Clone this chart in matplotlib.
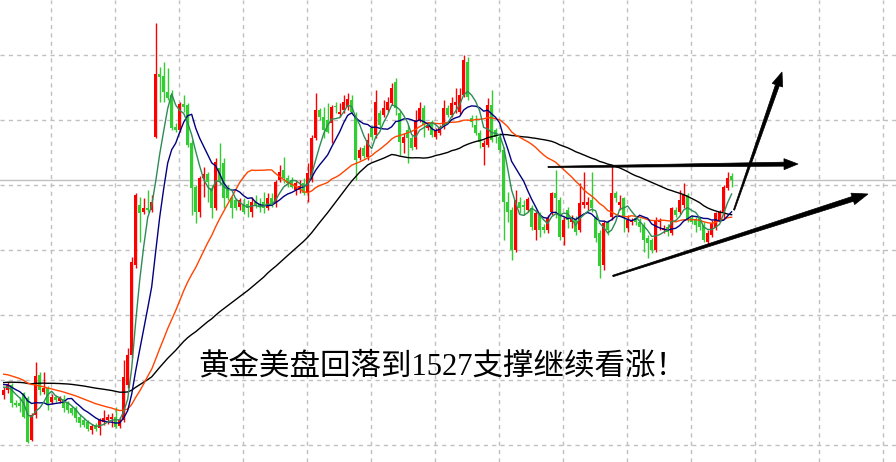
import numpy as np
import pandas as pd
import matplotlib
matplotlib.use("Agg")
import matplotlib.pyplot as plt
from matplotlib.patches import Polygon
from matplotlib.transforms import IdentityTransform

# gold H1 candles
opens = [1514.0, 1514.5, 1515.0, 1513.2, 1513.2, 1514.2, 1513.7, 1509.5, 1512.0, 1516.0,
         1514.3, 1514.7, 1513.3, 1513.8, 1513.4, 1513.6, 1513.2, 1512.7, 1512.7, 1511.8,
         1511.5, 1511.3, 1510.5, 1511.0, 1510.7, 1511.3, 1511.5, 1511.6, 1511.8, 1510.9,
         1511.5, 1515.0, 1518.0, 1527.0, 1533.0, 1532.3, 1532.7, 1532.5, 1539.8, 1546.1,
         1545.9, 1544.3, 1544.0, 1540.8, 1540.5, 1543.1, 1543.0, 1539.2, 1534.8, 1532.3,
         1535.7, 1536.1, 1534.7, 1532.7, 1536.7, 1537.2, 1534.7, 1533.7, 1533.5, 1532.8,
         1533.1, 1533.1, 1532.3, 1533.3, 1533.1, 1533.3, 1532.7, 1533.7, 1533.2, 1535.5,
         1536.5, 1535.7, 1535.5, 1534.5, 1534.5, 1535.2, 1534.2, 1535.5, 1539.7, 1542.5,
         1541.8, 1541.5, 1541.2, 1542.9, 1542.1, 1542.5, 1542.8, 1543.5, 1542.0, 1537.7,
         1538.7, 1537.8, 1540.7, 1540.0, 1542.2, 1542.0, 1542.5, 1543.2, 1545.3, 1542.2,
         1539.2, 1540.5, 1539.7, 1538.8, 1541.5, 1542.7, 1540.7, 1541.2, 1539.8, 1540.2,
         1540.8, 1542.7, 1542.0, 1543.0, 1542.3, 1544.0, 1547.3, 1541.7, 1541.0, 1540.2,
         1538.8, 1539.0, 1543.0, 1540.5, 1539.8, 1538.5, 1533.3, 1532.5, 1528.5, 1533.3,
         1533.0, 1532.5, 1532.7, 1530.5, 1532.0, 1530.8, 1530.5, 1532.3, 1534.2, 1533.5,
         1529.8, 1532.5, 1531.3, 1531.6, 1530.5, 1533.0, 1533.0, 1533.5, 1531.7, 1530.2,
         1527.0, 1531.3, 1531.8, 1534.2, 1533.0, 1533.7, 1530.7, 1531.3, 1531.7, 1531.3,
         1531.0, 1529.7, 1529.5, 1528.5, 1531.3, 1530.5, 1530.8, 1530.2, 1532.5, 1532.3,
         1533.0, 1534.0, 1531.7, 1531.5, 1531.7, 1531.0, 1529.3, 1530.0, 1530.7, 1531.5,
         1532.2, 1534.7, 1535.9]
highs = [1514.8, 1515.3, 1515.2, 1513.5, 1513.8, 1514.3, 1513.9, 1512.2, 1517.3, 1516.3,
         1516.3, 1514.9, 1514.1, 1514.0, 1513.9, 1514.0, 1513.4, 1512.9, 1512.9, 1512.1,
         1511.7, 1511.5, 1511.1, 1511.2, 1511.7, 1512.5, 1512.1, 1512.2, 1512.8, 1511.8,
         1517.5, 1518.7, 1527.8, 1534.2, 1533.8, 1533.7, 1534.5, 1534.0, 1551.2, 1546.8,
         1547.3, 1546.7, 1544.5, 1541.2, 1543.3, 1544.0, 1543.2, 1539.5, 1535.0, 1535.9,
         1536.8, 1536.3, 1535.0, 1537.7, 1539.2, 1537.7, 1535.0, 1533.9, 1533.7, 1533.7,
         1533.7, 1533.5, 1533.8, 1534.0, 1533.7, 1534.3, 1534.2, 1534.2, 1535.5, 1537.0,
         1537.8, 1536.0, 1535.8, 1535.5, 1535.5, 1535.7, 1537.2, 1540.0, 1544.2, 1542.7,
         1542.8, 1543.2, 1543.0, 1543.3, 1543.2, 1544.0, 1544.2, 1544.0, 1542.3, 1538.8,
         1539.0, 1540.2, 1541.0, 1544.5, 1542.5, 1543.5, 1543.8, 1545.2, 1545.7, 1542.5,
         1540.2, 1541.0, 1540.0, 1542.5, 1543.3, 1543.0, 1541.3, 1541.5, 1540.7, 1541.0,
         1543.5, 1543.0, 1543.8, 1544.7, 1544.7, 1548.0, 1547.8, 1542.0, 1542.0, 1540.5,
         1539.5, 1543.7, 1544.5, 1540.7, 1540.2, 1538.8, 1534.3, 1532.8, 1534.5, 1533.8,
         1533.5, 1533.8, 1533.0, 1532.5, 1532.3, 1531.1, 1532.0, 1534.3, 1536.5, 1533.8,
         1531.8, 1532.8, 1532.0, 1531.9, 1535.2, 1536.3, 1533.8, 1536.3, 1532.0, 1530.5,
         1531.5, 1531.5, 1537.0, 1534.4, 1534.0, 1533.8, 1532.0, 1531.7, 1531.9, 1531.7,
         1531.3, 1530.0, 1529.7, 1531.8, 1531.7, 1531.0, 1531.1, 1532.8, 1532.8, 1534.5,
         1535.2, 1534.2, 1532.0, 1531.8, 1531.8, 1531.3, 1530.5, 1531.5, 1532.3, 1532.5,
         1535.0, 1536.3, 1536.2]
lows = [1513.6, 1514.2, 1512.8, 1512.8, 1512.3, 1511.7, 1509.2, 1509.4, 1511.7, 1514.0,
        1514.1, 1512.5, 1513.1, 1513.3, 1513.2, 1512.3, 1512.2, 1512.0, 1511.3, 1510.8,
        1510.8, 1510.4, 1510.1, 1510.4, 1510.0, 1511.0, 1511.1, 1510.8, 1510.7, 1510.7,
        1511.3, 1514.7, 1517.7, 1526.7, 1529.3, 1532.1, 1532.3, 1532.3, 1539.7, 1543.3,
        1543.3, 1543.5, 1540.5, 1540.3, 1540.3, 1542.3, 1538.8, 1532.0, 1531.2, 1531.8,
        1533.8, 1533.3, 1531.7, 1532.5, 1535.0, 1532.7, 1533.5, 1531.7, 1532.5, 1532.5,
        1532.1, 1531.8, 1531.8, 1532.7, 1532.3, 1532.2, 1532.5, 1532.8, 1532.8, 1535.3,
        1535.2, 1534.8, 1534.7, 1534.0, 1534.2, 1534.0, 1533.3, 1535.3, 1539.5, 1541.5,
        1539.7, 1540.2, 1539.2, 1542.2, 1541.8, 1542.2, 1542.5, 1542.2, 1535.5, 1537.5,
        1537.7, 1537.5, 1539.5, 1539.7, 1540.7, 1541.8, 1542.3, 1543.0, 1542.0, 1538.0,
        1538.2, 1537.2, 1538.5, 1538.6, 1541.3, 1539.8, 1540.5, 1539.8, 1539.6, 1540.0,
        1540.6, 1541.8, 1541.8, 1542.2, 1542.1, 1543.8, 1543.5, 1540.8, 1540.0, 1538.7,
        1537.0, 1538.8, 1539.3, 1539.2, 1538.3, 1529.5, 1531.3, 1527.5, 1528.3, 1532.2,
        1532.0, 1532.3, 1530.5, 1529.5, 1529.8, 1530.2, 1530.2, 1532.0, 1531.7, 1529.5,
        1529.0, 1530.7, 1530.7, 1530.0, 1530.3, 1532.7, 1532.5, 1532.3, 1529.3, 1525.7,
        1526.5, 1530.0, 1531.5, 1533.3, 1532.5, 1530.3, 1530.3, 1531.0, 1531.0, 1530.3,
        1528.3, 1527.7, 1528.2, 1528.3, 1530.5, 1530.2, 1529.9, 1530.0, 1531.8, 1532.1,
        1532.7, 1531.3, 1531.1, 1530.3, 1530.5, 1529.3, 1529.0, 1529.8, 1530.5, 1531.3,
        1531.7, 1534.5, 1534.8]
closes = [1514.5, 1515.0, 1513.2, 1513.0, 1512.9, 1511.8, 1509.3, 1512.0, 1515.9, 1514.5,
          1514.7, 1513.0, 1513.8, 1513.5, 1513.7, 1512.7, 1512.5, 1512.2, 1511.7, 1511.2,
          1511.0, 1510.6, 1510.9, 1510.6, 1511.5, 1511.7, 1511.8, 1511.8, 1510.8, 1511.5,
          1515.8, 1518.0, 1527.3, 1534.0, 1532.2, 1532.7, 1532.5, 1533.3, 1546.1, 1545.8,
          1544.3, 1543.7, 1540.7, 1540.5, 1543.1, 1542.8, 1539.0, 1534.7, 1532.3, 1535.7,
          1536.1, 1535.3, 1532.7, 1537.3, 1535.3, 1533.7, 1533.7, 1532.7, 1532.7, 1533.5,
          1532.3, 1532.7, 1533.3, 1533.0, 1532.8, 1532.7, 1533.7, 1533.0, 1535.3, 1536.3,
          1535.7, 1535.2, 1534.8, 1535.2, 1534.9, 1534.2, 1536.2, 1539.7, 1542.5, 1541.8,
          1540.5, 1540.3, 1542.8, 1542.8, 1542.3, 1543.3, 1543.6, 1542.3, 1537.5, 1538.5,
          1537.9, 1539.5, 1539.8, 1543.3, 1541.0, 1542.7, 1543.3, 1544.7, 1542.7, 1539.3,
          1539.8, 1539.7, 1538.7, 1541.5, 1542.7, 1541.0, 1541.0, 1540.0, 1540.5, 1540.8,
          1542.7, 1542.0, 1543.2, 1543.3, 1544.0, 1547.5, 1543.8, 1541.3, 1540.2, 1539.3,
          1539.2, 1543.0, 1539.5, 1539.8, 1538.5, 1533.3, 1532.3, 1528.5, 1533.5, 1532.7,
          1532.8, 1533.6, 1530.8, 1532.2, 1530.5, 1530.5, 1531.7, 1534.2, 1533.7, 1529.8,
          1531.5, 1531.5, 1531.7, 1530.3, 1533.2, 1533.3, 1533.3, 1532.7, 1529.7, 1526.9,
          1531.2, 1530.5, 1534.2, 1533.7, 1533.3, 1531.8, 1531.5, 1531.5, 1531.3, 1530.8,
          1529.5, 1529.2, 1528.5, 1531.5, 1531.5, 1530.7, 1530.3, 1532.7, 1532.0, 1533.5,
          1534.0, 1531.5, 1531.3, 1531.0, 1530.8, 1529.5, 1530.2, 1531.2, 1532.2, 1532.3,
          1534.8, 1535.7, 1535.5]

# closes before the visible window, only used to warm up the moving averages
prior_closes = [1512.5, 1513.0, 1512.8, 1513.4, 1513.9, 1513.5, 1514.0, 1513.6, 1513.2, 1513.8,
                1514.3, 1514.0, 1513.7, 1514.2, 1514.6, 1514.1, 1513.8, 1514.4, 1514.9, 1514.5,
                1514.2, 1514.8, 1515.3, 1515.0, 1514.6, 1515.2, 1515.7, 1515.4, 1516.0, 1516.5,
                1515.8, 1516.4, 1516.9, 1516.5, 1517.1, 1517.5, 1517.0, 1516.6, 1517.2, 1517.6,
                1517.1, 1516.7, 1516.4, 1516.9, 1516.5, 1516.0, 1516.4, 1515.9, 1515.5, 1516.0,
                1515.6, 1515.2, 1515.7, 1515.3, 1514.9, 1515.4, 1515.0, 1514.6, 1515.1, 1514.7]

ma_periods = [60, 30, 10, 5]
ma_colors = ["#000000", "#FF4500", "#000080", "#2E8B57"]

note = "黄金美盘回落到1527支撑继续看涨！"

# drawing arrows: (start, end) in (bar index, price)
arrows = [((182.6, 1532.5), (194.6, 1546.3)),
          ((136.1, 1536.8), (198.6, 1537.1)),
          ((152.3, 1525.9), (216.1, 1534.1))]

df = pd.DataFrame({"open": opens, "high": highs, "low": lows, "close": closes})
n = len(df)
x = np.arange(n)
full_close = pd.Series(prior_closes + closes)

fig = plt.figure(figsize=(8.96, 4.62), dpi=100)
ax = fig.add_axes([0, 0, 1, 1])
ax.set_xlim(-0.925, 223.1)
ax.set_ylim(1507.3, 1553.5)

# grid like the terminal
ax.set_xticks(np.arange(11.8, 224, 16))
ax.set_yticks(np.arange(1509.0, 1553, 6.5))
ax.grid(True, color="#C0C0C0", linestyle=(0, (3, 3)), linewidth=1)
ax.tick_params(length=0, labelbottom=False, labelleft=False)
for s in ax.spines.values():
    s.set_visible(False)

ax.axhline(closes[-1], color="#C0C0C0", linewidth=1, zorder=1)

up = df["close"] >= df["open"]
cols = np.where(up, "#FF0000", "#32CD32")
ax.vlines(x, df["low"], df["high"], colors=cols, linewidth=1, zorder=2)
body_lo = np.minimum(df["open"], df["close"])
body_h = np.maximum((df["close"] - df["open"]).abs(), 0.12)
ax.bar(x, body_h, bottom=body_lo, width=0.72, color=cols, linewidth=0, zorder=3)

for per, c in zip(ma_periods, ma_colors):
    ma = full_close.rolling(per).mean().values[len(prior_closes):]
    ax.plot(x, ma, color=c, linewidth=1, zorder=4)


def tapered_arrow(ax, p0, p1, w0, w1, head_len, head_w):
    a = ax.transData.transform(p0)
    b = ax.transData.transform(p1)
    d = b - a
    u = d / np.hypot(*d)
    nv = np.array([-u[1], u[0]])
    base = b - u * head_len
    pts = [a + nv * w0 / 2, base + nv * w1 / 2, base + nv * head_w / 2, b,
           base - nv * head_w / 2, base - nv * w1 / 2, a - nv * w0 / 2]
    ax.add_patch(Polygon(pts, closed=True, facecolor="black", edgecolor="black",
                         linewidth=0.5, transform=IdentityTransform(), zorder=6))


tapered_arrow(ax, arrows[0][0], arrows[0][1], 1.2, 4.0, 14, 11)
tapered_arrow(ax, arrows[1][0], arrows[1][1], 1.2, 4.0, 14, 11)
tapered_arrow(ax, arrows[2][0], arrows[2][1], 1.5, 5.0, 16, 12)

ax.text(0.221, 0.205, note, transform=ax.transAxes, fontsize=22, ha="left", va="center",
        family=["Liberation Serif", "Noto Sans CJK SC"], color="black", zorder=7)

plt.savefig("out.png", dpi=100)
